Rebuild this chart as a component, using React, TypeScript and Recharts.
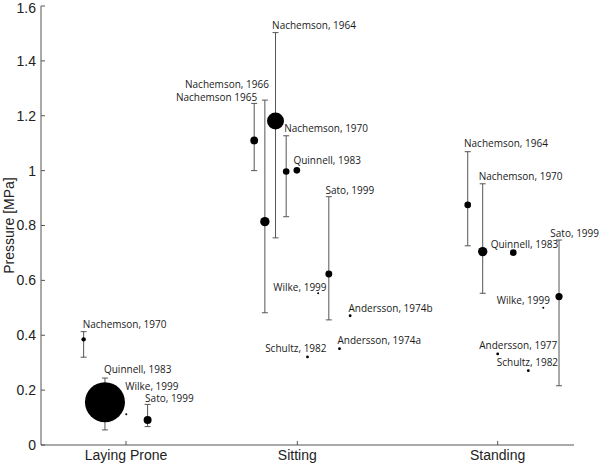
import React from 'react';
import { ScatterChart, Scatter, XAxis, YAxis, ZAxis, ErrorBar } from 'recharts';

// Categories (postures) and their positions on the horizontal axis
const POSTURES = ['Laying Prone', 'Sitting', 'Standing'];
const POSTURE_POS = [15.95, 48.09, 85.68];

// Studies
const STUDIES = [
  'Nachemson, 1970', 'Quinnell, 1983', 'Wilke, 1999', 'Sato, 1999',
  'Nachemson 1965', 'Nachemson, 1966', 'Nachemson, 1964', 'Nachemson, 1970', 'Quinnell, 1983',
  'Schultz, 1982', 'Wilke, 1999', 'Sato, 1999', 'Andersson, 1974a', 'Andersson, 1974b',
  'Nachemson, 1964', 'Nachemson, 1970', 'Andersson, 1977', 'Quinnell, 1983', 'Schultz, 1982',
  'Wilke, 1999', 'Sato, 1999',
];
const X_POS = [
  8, 12, 16, 20,
  40, 42, 44, 46, 48, 50, 52, 54, 56, 58,
  80.06, 82.87, 85.68, 88.61, 91.43, 94.24, 97.19,
];
const PRESSURE = [
  0.385, 0.156, 0.112, 0.091,
  1.11, 0.814, 1.181, 0.997, 1.001, 0.321, 0.553, 0.623, 0.351, 0.471,
  0.875, 0.705, 0.332, 0.701, 0.271, 0.5, 0.541,
];
const ERR_LOW: (number | null)[] = [
  0.32, 0.055, null, 0.067,
  1.0, 0.482, 0.755, 0.832, null, null, null, 0.456, null, null,
  0.726, 0.553, null, null, null, null, 0.216,
];
const ERR_HIGH: (number | null)[] = [
  0.413, 0.244, null, 0.148,
  1.245, 1.257, 1.503, 1.127, null, null, null, 0.905, null, null,
  1.069, 0.952, null, null, null, null, 0.747,
];
// relative weight (marker area)
const WEIGHT = [
  5, 400, 1, 16,
  15, 22, 72, 11, 11, 2, 1, 12, 2, 2,
  11, 22, 2, 11, 2, 1, 13,
];
const Y_TICKS = [0, 0.2, 0.4, 0.6, 0.8, 1, 1.2, 1.4, 1.6];

// label placement relative to each marker: [dx, dy, anchor]
const LABEL_LAYOUT: [number, number, string][] = [
  [-1, -15, 'start'], [-1, -33, 'start'], [-1, -28, 'start'], [-2.5, -22, 'start'],
  [3, -42.6, 'end'], [4, -137.4, 'end'], [-3.4, -95.7, 'start'], [-2, -43, 'start'], [-3.4, -10.3, 'start'],
  [19, -8, 'end'], [8.4, -6, 'end'], [-3.3, -84, 'start'], [-2, -7.7, 'start'], [-1.7, -7.4, 'start'],
  [-3.7, -61, 'start'], [-4, -75, 'start'], [-18.4, -8.3, 'start'], [-22.6, -7.7, 'start'], [-31.6, -8, 'start'],
  [6.7, -7.7, 'end'], [40, -63.4, 'end'],
];

const points = STUDIES.map((name, i) => ({
  name,
  idx: i,
  x: X_POS[i],
  y: PRESSURE[i],
  n: WEIGHT[i],
  err:
    ERR_LOW[i] !== null && ERR_HIGH[i] !== null
      ? [PRESSURE[i] - (ERR_LOW[i] as number), (ERR_HIGH[i] as number) - PRESSURE[i]]
      : null,
}));

const LabelShape = (props: any) => {
  const { cx, cy, payload } = props;
  if (cx == null || cy == null) return null;
  const [dx, dy, anchor] = LABEL_LAYOUT[payload.idx];
  return (
    <text
      x={cx + dx}
      y={cy + dy + 3.5}
      textAnchor={anchor as any}
      fontFamily="Open Sans"
      fontSize={10}
      fill="#1a1a1a"
    >
      {payload.name}
    </text>
  );
};

const axisColor = '#555';
const tickStyle = { fontFamily: 'Liberation Sans', fontSize: 14, fill: '#222' };

export default function App() {
  return (
    <div style={{ position: 'absolute', left: 0, top: 0, width: 600, height: 464, background: '#fff' }}>
      <ScatterChart
        width={600}
        height={464}
        margin={{ top: 6, right: 26, bottom: 0, left: 0 }}
        style={{ overflow: 'visible' }}
      >
        <XAxis
          type="number"
          dataKey="x"
          domain={[0, 100]}
          ticks={POSTURE_POS}
          tickFormatter={(v: number) => POSTURES[POSTURE_POS.indexOf(v)] ?? ''}
          height={19}
          tickSize={-4}
          tickMargin={9}
          stroke={axisColor}
          tick={tickStyle}
        />
        <YAxis
          type="number"
          dataKey="y"
          domain={[0, 1.6]}
          ticks={Y_TICKS}
          tickFormatter={(v: number) => String(+v.toFixed(1))}
          width={41}
          tickSize={-4}
          tickMargin={9}
          stroke={axisColor}
          tick={tickStyle}
          label={{
            value: 'Pressure [MPa]',
            angle: -90,
            position: 'center',
            dx: -11.5,
            style: { fontFamily: 'Liberation Sans', fontSize: 14, fill: '#222' },
          }}
        />
        <ZAxis type="number" dataKey="n" domain={[0, 400]} range={[0, 1256.6]} />
        <Scatter data={points} fill="#000" shape="circle" isAnimationActive={false}>
          <ErrorBar dataKey="err" direction="y" width={3} stroke="#555" strokeWidth={1} />
        </Scatter>
        <Scatter data={points} shape={LabelShape} isAnimationActive={false} />
      </ScatterChart>
    </div>
  );
}
